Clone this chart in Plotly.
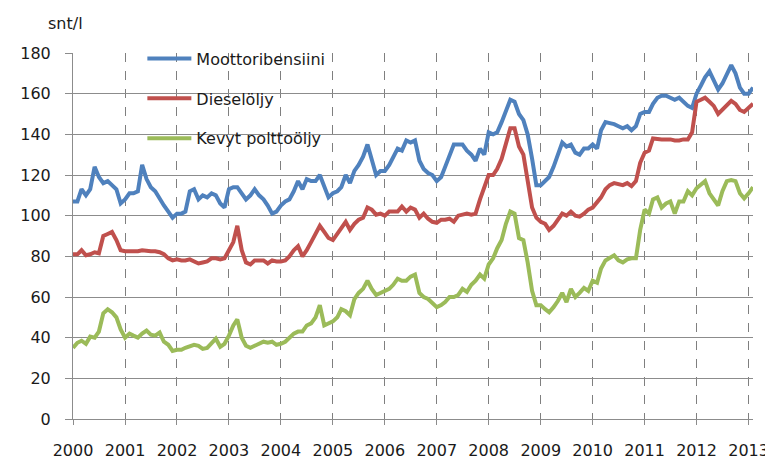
import plotly.graph_objects as go
import pandas as pd

# Monthly prices, snt/l, Jan 2000 - Feb 2013
bensiini = [
    107, 107, 113, 110, 113, 124, 119, 116, 117, 115, 113, 106,
    108, 111, 111, 112, 125, 118, 114, 112, 108, 105, 102, 99,
    101, 101, 102, 112, 113, 108, 110, 109, 111, 110, 106, 104,
    113, 114, 114, 111, 108, 110, 113, 110, 108, 105, 101, 102,
    105, 107, 108, 112, 117, 113, 118, 117, 117, 120, 115, 109,
    111, 112, 114, 120, 116, 122, 125, 129, 135, 128, 120, 122,
    122, 125, 129, 133, 132, 137, 136, 137, 127, 123, 121, 120,
    117, 119, 124, 130, 135, 135, 135, 132, 130, 127, 133, 130,
    141, 140, 141, 146, 151, 157, 156, 150, 147, 140, 128, 115,
    115, 117, 119, 124, 130, 136, 134, 135, 131, 130, 133, 133,
    135, 133, 142, 146, 145.5, 145, 144, 143, 144, 142, 144, 150,
    151, 151, 155, 158, 159, 159, 158, 157, 158, 156, 154, 153,
    160, 164, 168, 171, 167, 162, 165, 170, 174, 170, 163, 160,
    160, 163,
]
diesel = [
    81, 81, 83, 80.5, 81, 82, 81.5, 90, 91, 92, 88, 83,
    82.5, 82.5, 82.5, 82.5, 83, 82.5, 82.5, 82.5, 82, 81, 79, 78,
    78.5, 78, 78, 78.5, 77.5, 76.5, 77, 77.5, 79, 79, 78.5, 79,
    83, 87, 95, 83, 77, 76, 78, 78, 78, 76.5, 78, 77.5,
    77.5, 78, 80, 83, 85, 80, 83, 87, 91, 95, 92, 89,
    88, 91, 94, 97, 93, 96, 98, 99, 104, 103, 100.5, 101,
    100, 102, 102, 102, 104.5, 102, 104, 103, 99, 101, 98.5, 97,
    96.5, 98, 98, 98.5, 97, 100, 100.5, 101, 100.5, 101, 108, 114,
    120, 120, 123, 128, 135, 143, 143, 134, 130, 118, 104, 99,
    97, 96, 93, 95, 98, 101, 100, 102, 100, 99.5, 101, 103,
    104, 107, 109, 113, 115, 116, 115.5, 115, 116, 114.5, 117, 126,
    131, 132, 138, 137.5, 137.5, 137.5, 137.5, 137, 137, 137.5, 137.5, 141,
    156, 157, 158, 156, 154, 150, 152, 154, 156.5, 155, 152, 151,
    153, 155,
]
kevyt = [
    35, 37.5, 38.5, 37, 40.5, 40, 43, 52, 54, 52.5, 50, 44,
    40, 42, 41, 40, 42, 43.5, 41.5, 41, 42.5, 38, 36.5, 33.5,
    34, 34, 35, 36, 36.5, 36, 34.5, 35, 37, 39.5, 35.5, 37,
    41, 46, 49, 40, 36, 35, 36, 37, 38, 37.5, 38, 36.5,
    37, 38, 40, 42, 43, 43, 46, 47, 50, 56, 46, 47,
    48, 50, 54, 53, 51, 59, 62, 64, 68, 64, 61, 62,
    63, 64, 66, 69, 68, 68, 70, 71, 62, 60, 59, 57,
    55, 56, 57.5, 60, 60, 61, 64, 62.5, 66, 68, 71, 69,
    76, 79, 84, 88, 96, 102, 101, 89, 88, 77, 63, 56,
    56, 54, 52.5, 55, 58, 62, 57.5, 64, 60, 62, 64.5, 63,
    68, 67, 74, 78, 79, 80.5, 78, 77, 78.5, 79, 79, 93,
    103, 101, 108, 109, 104, 106, 107, 101, 107, 107, 112, 110,
    113.5, 115, 117, 111, 108, 105, 112, 117, 117.5, 117, 111, 108.5,
    111, 114,
]
months = pd.date_range("2000-01-01", periods=len(bensiini), freq="MS")
year_ticks = pd.date_range("2000-01-01", "2013-01-01", freq="YS")
year_labels = [str(d.year) for d in year_ticks]

series = [
    ("Moottoribensiini", bensiini, "#4F81BD"),
    ("Dieselöljy", diesel, "#C0504D"),
    ("Kevyt polttoöljy", kevyt, "#9BBB59"),
]

fig = go.Figure()
for i, (name, vals, color) in enumerate(series):
    fig.add_trace(go.Scatter(
        x=months,
        y=vals,
        name=name,
        mode="lines",
        legendgroup=f"g{i}",
        line=dict(color=color, width=4),
    ))

font = "DejaVu Sans, Verdana, sans-serif"

fig.update_layout(
    width=773,
    height=464,
    margin=dict(l=62, r=18, t=45, b=37),
    plot_bgcolor="white",
    paper_bgcolor="white",
    font=dict(family=font, size=16, color="#1a1a1a"),
    showlegend=True,
    legend=dict(
        x=0.102, y=1.031, xanchor="left", yanchor="top",
        bgcolor="rgba(0,0,0,0)",
        font=dict(family=font, size=16, color="#1a1a1a"),
        tracegroupgap=16,
        itemwidth=44,
    ),
    xaxis=dict(
        range=[months[0], months[-1]],
        tickvals=list(year_ticks),
        ticktext=year_labels,
        showgrid=True,
        gridcolor="#7f7f7f",
        griddash="dash",
        gridwidth=1,
        showline=True,
        linecolor="#8c8c8c",
        linewidth=1,
        ticks="outside",
        ticklen=5,
        tickcolor="#8c8c8c",
        ticklabelstandoff=12,
        zeroline=False,
    ),
    yaxis=dict(
        range=[0, 180],
        dtick=20,
        showgrid=True,
        gridcolor="#8c8c8c",
        gridwidth=1,
        showline=True,
        linecolor="#8c8c8c",
        linewidth=1,
        ticks="outside",
        ticklen=7,
        tickcolor="#8c8c8c",
        ticklabelstandoff=11,
        zeroline=False,
    ),
    annotations=[
        dict(
            text="snt/l", xref="paper", yref="paper",
            x=-0.039, y=1.08, xanchor="left", yanchor="middle",
            showarrow=False, font=dict(family=font, size=16, color="#1a1a1a"),
        )
    ],
)

fig.write_html("out.html")
